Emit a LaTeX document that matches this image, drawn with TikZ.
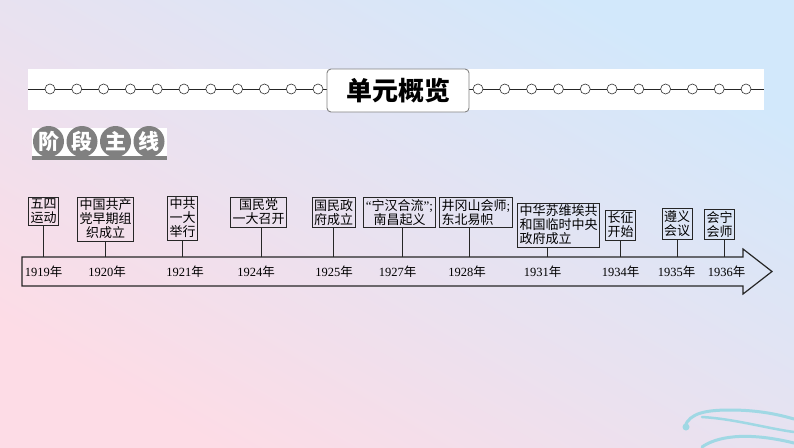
\documentclass[tikz,border=0pt]{standalone}
\usepackage{fontspec}
\setmainfont{Liberation Serif}
\newfontfamily\cjk{Noto Sans CJK SC}
\definecolor{bgTL}{RGB}{253,220,230}
\definecolor{bgMid}{RGB}{233,228,243}
\definecolor{bgBR}{RGB}{210,232,251}
\definecolor{wave}{RGB}{160,216,228}
\definecolor{badge}{RGB}{128,128,128}
\definecolor{frame}{RGB}{130,130,130}
\newcommand{\yr}[1]{#1{\cjk 年}}
\tikzset{
  evbox/.style={draw=black!85, line width=0.9pt, align=center, inner sep=2pt,
    font=\cjk\fontsize{13}{14}\selectfont},
  yearlbl/.style={font=\fontsize{12.5}{14}\selectfont, inner sep=0pt},
  tick/.style={draw=black!85, line width=0.9pt},
  ring/.style={circle, draw=black!80, fill=white, line width=0.6pt, minimum size=10pt, inner sep=0pt},
  badgedot/.style={circle, fill=badge, minimum size=31pt, inner sep=0pt,
    text=white, font=\cjk\bfseries\fontsize{21}{21}\selectfont},
}
\begin{document}
\begin{tikzpicture}[x=1pt,y=-1pt]
\useasboundingbox (0,0) rectangle (794,447);
% background
\begin{scope}[y=1pt]
\shade[top color=bgTL, middle color=bgMid, bottom color=bgBR, shading angle=150] (0,-447) rectangle (794,0);
\end{scope}
% waves
\begin{scope}[wave, line cap=round]
\fill (686,427) circle (3.5pt);
\draw[line width=3pt] (685,426) .. controls (690,413) and (706,410) .. (730,410) .. controls (760,410) and (780,415) .. (794,419);
\draw[line width=2.5pt] (702,417) .. controls (735,419) and (765,428) .. (794,432);
\draw[line width=3pt] (702,447) .. controls (716,437) and (745,431) .. (794,443);
\end{scope}
% header band
\fill[white] (28,69) rectangle (764,110);
\coordinate (hl) at (28,89);
\coordinate (hr) at (764,89);
\draw[line width=0.7pt, black!85] (hl) -- (hr);
\foreach \i in {0,...,10}{
  \node[ring] (L\i) at ({50+26.8*\i},89) {};
  \node[ring] (R\i) at ({478+26.8*\i},89) {};
}
\node[draw=frame, fill=white, rounded corners=4pt, line width=0.9pt,
  minimum width=142pt, minimum height=43pt, inner sep=0pt,
  font=\cjk\bfseries\fontsize{26}{26}\selectfont] (title) at (398,90.5) {单元概览};
% badge
\fill[white] (32,128) rectangle (167,157);
\fill[badge] (32,156) rectangle (167,159.5);
\node[badgedot] (s1) at (48.5,141.5) {阶};
\node[badgedot] (s2) at (82,141.5) {段};
\node[badgedot] (s3) at (115.5,141.5) {主};
\node[badgedot] (s4) at (149,141.5) {线};
% timeline arrow
\draw[line width=1.2pt, black!85, line join=miter]
  (22,257) -- (743,257) -- (743,249) -- (772,271.5) -- (743,294) -- (743,286) -- (22,286) -- cycle;
\coordinate (top) at (0,257);
% years
\node[yearlbl] (y1) at (43.5,272) {\yr{1919}};
\node[yearlbl] (y2) at (107,272) {\yr{1920}};
\node[yearlbl] (y3) at (185,272) {\yr{1921}};
\node[yearlbl] (y4) at (256,272) {\yr{1924}};
\node[yearlbl] (y5) at (334,272) {\yr{1925}};
\node[yearlbl] (y6) at (397.5,272) {\yr{1927}};
\node[yearlbl] (y7) at (467,272) {\yr{1928}};
\node[yearlbl] (y8) at (542.5,272) {\yr{1931}};
\node[yearlbl] (y9) at (620.5,272) {\yr{1934}};
\node[yearlbl] (y10) at (676.5,272) {\yr{1935}};
\node[yearlbl] (y11) at (726.5,272) {\yr{1936}};
% event boxes
\node[evbox] (b1) at (43.5,211.5) {五四\\运动};
\node[evbox] (b2) at (105.5,219) {中国共产\\党早期组\\织成立};
\node[evbox] (b3) at (182.5,218) {中共\\一大\\举行};
\node[evbox] (b4) at (258.5,212) {国民党\\一大召开};
\node[evbox] (b5) at (333.5,212.5) {国民政\\府成立};
\node[evbox] (b6) at (399.5,212.5) {{\rmfamily “}宁汉合流{\rmfamily ”;}\\南昌起义};
\node[evbox, align=left] (b7) at (476,212.5) {井冈山会师{\rmfamily ;}\\东北易帜};
\node[evbox, align=left] (b8) at (558.5,225) {中华苏维埃共\\和国临时中央\\政府成立};
\node[evbox] (b9) at (620.5,225) {长征\\开始};
\node[evbox] (b10) at (677,224) {遵义\\会议};
\node[evbox] (b11) at (719.5,224.5) {会宁\\会师};
% connectors (each falls from its box to the top edge of the arrow)
\draw[tick] (b1.south) -- (b1.south |- top);
\draw[tick] (b2.south) -- (b2.south |- top);
\draw[tick] (b3.south) -- (b3.south |- top);
\draw[tick] ([xshift=2.5pt]b4.south) -- ([xshift=2.5pt]b4.south |- top);
\draw[tick] (b5.south) -- (b5.south |- top);
\draw[tick] ([xshift=2.5pt]b6.south) -- ([xshift=2.5pt]b6.south |- top);
\draw[tick] ([xshift=-7pt]b7.south) -- ([xshift=-7pt]b7.south |- top);
\draw[tick] ([xshift=-11.5pt]b8.south) -- ([xshift=-11.5pt]b8.south |- top);
\draw[tick] (b9.south) -- (b9.south |- top);
\draw[tick] (b10.south) -- (b10.south |- top);
\draw[tick] ([xshift=4.5pt]b11.south) -- ([xshift=4.5pt]b11.south |- top);
\end{tikzpicture}
\end{document}
